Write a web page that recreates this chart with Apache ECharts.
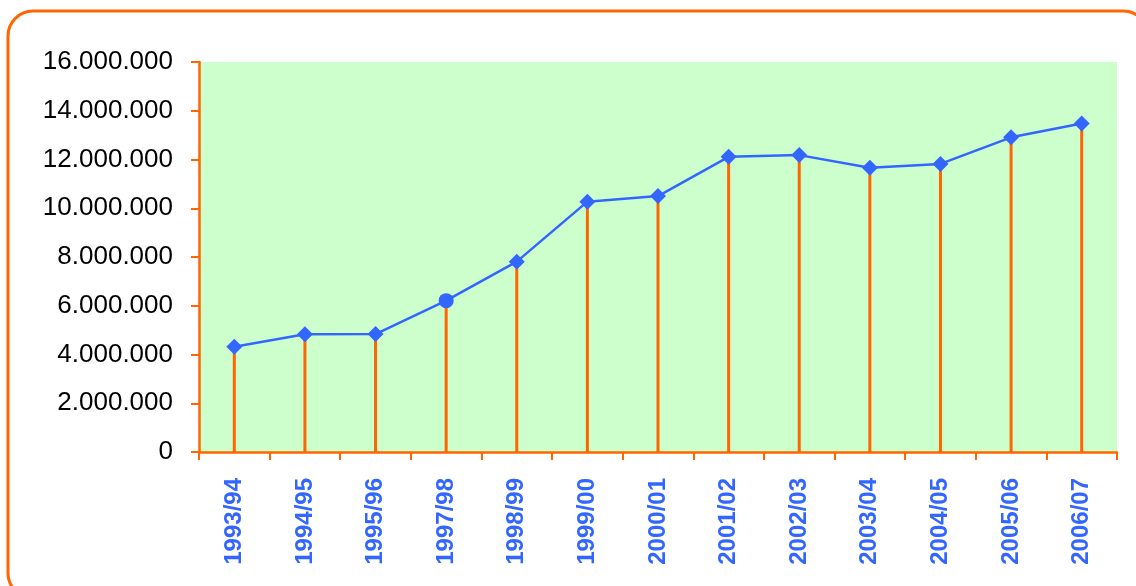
<!DOCTYPE html>
<html>
<head>
<meta charset="utf-8">
<script src="https://cdn.jsdelivr.net/npm/echarts@6/dist/echarts.min.js"></script>
<style>
html,body{margin:0;padding:0;background:#fff;}
#chart{width:1136px;height:586px;}
</style>
</head>
<body>
<div id="chart"></div>
<script>
var categories = ['1993/94','1994/95','1995/96','1997/98','1998/99','1999/00','2000/01','2001/02','2002/03','2003/04','2004/05','2005/06','2006/07'];
var values = [4320000, 4830000, 4840000, 6210000, 7810000, 10270000, 10500000, 12110000, 12180000, 11660000, 11820000, 12910000, 13480000];
var yTicks = [0, 2000000, 4000000, 6000000, 8000000, 10000000, 12000000, 14000000, 16000000];

var ORANGE = '#FF6600';
var BLUE = '#3366FF';

function fmt(v){
  return String(v).replace(/\B(?=(\d{3})+(?!\d))/g, '.');
}

var chart = echarts.init(document.getElementById('chart'));
chart.setOption({
  animation: false,
  graphic: [{
    type: 'rect',
    z: -10,
    silent: true,
    shape: {x: 8, y: 11, width: 1140, height: 587, r: 25},
    style: {fill: '#fff', stroke: ORANGE, lineWidth: 3}
  }],
  grid: {left: 199, right: 19, top: 62, bottom: 134, show: true, backgroundColor: '#CCFFCC', borderWidth: 0},
  xAxis: {
    type: 'category',
    data: categories,
    boundaryGap: true,
    axisLine: {lineStyle: {color: ORANGE, width: 2.5}},
    axisTick: {show: true, alignWithLabel: false, length: 8, lineStyle: {color: ORANGE, width: 2}},
    axisLabel: {
      rotate: 90, margin: 26, color: BLUE, fontWeight: 'bold',
      fontFamily: 'Liberation Sans, Arial, sans-serif', fontSize: 24, interval: 0
    },
    splitLine: {show: false}
  },
  yAxis: {
    type: 'value',
    min: yTicks[0],
    max: yTicks[yTicks.length - 1],
    interval: yTicks[1] - yTicks[0],
    axisLine: {show: true, lineStyle: {color: ORANGE, width: 2.5}},
    axisTick: {show: true, length: 8, lineStyle: {color: ORANGE, width: 2}},
    axisLabel: {
      margin: 26, color: '#000', fontFamily: 'Liberation Sans, Arial, sans-serif', fontSize: 26,
      formatter: function(v){ return fmt(v); }
    },
    splitLine: {show: false}
  },
  series: [{
    type: 'bar',
    data: values,
    barWidth: 3,
    itemStyle: {color: ORANGE},
    z: 2
  }, {
    type: 'line',
    data: values.map(function(v, i){
      return i === 3 ? {value: v, symbol: 'circle', symbolSize: 15} : v;
    }),
    symbol: 'diamond',
    symbolSize: 16,
    lineStyle: {color: BLUE, width: 2.5},
    itemStyle: {color: BLUE},
    z: 3
  }]
});
</script>
</body>
</html>
